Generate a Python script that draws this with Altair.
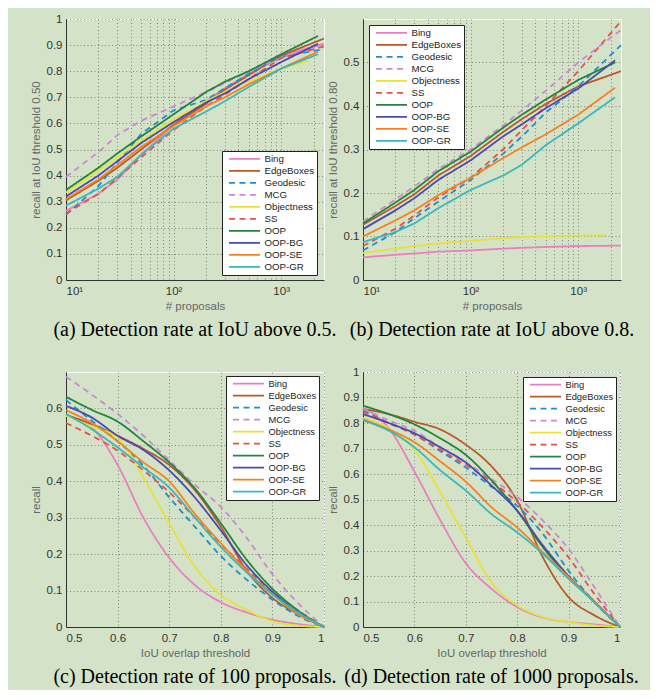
import altair as alt
import pandas as pd

METHODS = ["Bing", "EdgeBoxes", "Geodesic", "MCG", "Objectness", "SS",
           "OOP", "OOP-BG", "OOP-SE", "OOP-GR"]
COLORS = ["#e97fbd", "#b9592a", "#1f8fcf", "#c88ad6", "#e6e23a", "#e8504a",
          "#22853c", "#4a4ab0", "#f58220", "#3ab8b8"]
DASHED = ["Geodesic", "MCG", "SS"]

# number of proposals (x of panels a, b); last point differs per method
PROPOSALS = [10, 20, 30, 50, 100, 200, 300, 500, 1000]
END_PROPOSALS = {"Bing": 2500, "EdgeBoxes": 2500, "Geodesic": 2500, "MCG": 2500,
                 "Objectness": 1800, "SS": 2500, "OOP": 2200, "OOP-BG": 2200,
                 "OOP-SE": 2200, "OOP-GR": 2200}

# (a) recall at IoU 0.5
RECALL_050 = {
    "Bing":       [0.265, 0.33, 0.385, 0.48, 0.595, 0.685, 0.735, 0.79, 0.86, 0.905],
    "EdgeBoxes":  [0.305, 0.38, 0.43, 0.50, 0.595, 0.675, 0.73, 0.785, 0.86, 0.925],
    "Geodesic":   [0.25, 0.36, 0.45, 0.56, 0.65, 0.69, 0.735, 0.79, 0.855, 0.885],
    "MCG":        [0.395, 0.49, 0.555, 0.61, 0.665, 0.72, 0.755, 0.80, 0.85, 0.905],
    "Objectness": [0.335, 0.42, 0.47, 0.535, 0.615, 0.685, 0.72, 0.76, 0.81, 0.84],
    "SS":         [0.255, 0.33, 0.39, 0.47, 0.575, 0.665, 0.71, 0.77, 0.85, 0.895],
    "OOP":        [0.345, 0.43, 0.485, 0.55, 0.635, 0.72, 0.76, 0.80, 0.865, 0.935],
    "OOP-BG":     [0.32, 0.40, 0.455, 0.525, 0.605, 0.68, 0.715, 0.77, 0.835, 0.905],
    "OOP-SE":     [0.31, 0.385, 0.44, 0.51, 0.59, 0.665, 0.70, 0.75, 0.81, 0.875],
    "OOP-GR":     [0.285, 0.35, 0.395, 0.48, 0.58, 0.645, 0.685, 0.74, 0.81, 0.865],
}

# (b) recall at IoU 0.8
RECALL_080 = {
    "Bing":       [0.052, 0.058, 0.061, 0.065, 0.068, 0.072, 0.074, 0.076, 0.078, 0.079],
    "EdgeBoxes":  [0.127, 0.17, 0.197, 0.24, 0.285, 0.34, 0.37, 0.405, 0.445, 0.48],
    "Geodesic":   [0.068, 0.11, 0.142, 0.18, 0.23, 0.29, 0.33, 0.385, 0.445, 0.54],
    "MCG":        [0.135, 0.185, 0.215, 0.255, 0.30, 0.355, 0.39, 0.435, 0.50, 0.575],
    "Objectness": [0.062, 0.072, 0.078, 0.084, 0.09, 0.096, 0.099, 0.101, 0.102, 0.103],
    "SS":         [0.078, 0.118, 0.148, 0.19, 0.235, 0.30, 0.345, 0.40, 0.48, 0.595],
    "OOP":        [0.13, 0.178, 0.207, 0.25, 0.295, 0.35, 0.38, 0.415, 0.46, 0.50],
    "OOP-BG":     [0.117, 0.16, 0.188, 0.23, 0.275, 0.33, 0.358, 0.395, 0.44, 0.505],
    "OOP-SE":     [0.10, 0.137, 0.16, 0.195, 0.235, 0.28, 0.305, 0.335, 0.38, 0.442],
    "OOP-GR":     [0.087, 0.11, 0.13, 0.165, 0.207, 0.24, 0.265, 0.31, 0.36, 0.42],
}

# IoU overlap thresholds (x of panels c, d)
IOU = [0.5, 0.55, 0.6, 0.65, 0.7, 0.75, 0.8, 0.85, 0.9, 0.95, 1.0]

# (c) 100 proposals
RECALL_100 = {
    "Bing":       [0.58, 0.548, 0.445, 0.30, 0.19, 0.115, 0.068, 0.04, 0.02, 0.008, 0.0],
    "EdgeBoxes":  [0.582, 0.557, 0.525, 0.489, 0.445, 0.375, 0.275, 0.155, 0.08, 0.035, 0.0],
    "Geodesic":   [0.623, 0.566, 0.51, 0.443, 0.356, 0.275, 0.195, 0.13, 0.075, 0.03, 0.0],
    "MCG":        [0.687, 0.638, 0.585, 0.525, 0.458, 0.39, 0.33, 0.245, 0.145, 0.065, 0.0],
    "Objectness": [0.58, 0.55, 0.52, 0.41, 0.285, 0.165, 0.088, 0.047, 0.016, 0.004, 0.0],
    "SS":         [0.56, 0.525, 0.484, 0.43, 0.37, 0.30, 0.228, 0.16, 0.095, 0.045, 0.0],
    "OOP":        [0.632, 0.596, 0.564, 0.51, 0.452, 0.38, 0.285, 0.185, 0.105, 0.045, 0.0],
    "OOP-BG":     [0.607, 0.575, 0.525, 0.486, 0.43, 0.355, 0.265, 0.17, 0.097, 0.04, 0.0],
    "OOP-SE":     [0.595, 0.56, 0.51, 0.452, 0.40, 0.31, 0.23, 0.155, 0.09, 0.035, 0.0],
    "OOP-GR":     [0.585, 0.543, 0.493, 0.438, 0.383, 0.30, 0.22, 0.15, 0.09, 0.04, 0.0],
}

# (d) 1000 proposals
RECALL_1000 = {
    "Bing":       [0.86, 0.78, 0.61, 0.42, 0.25, 0.15, 0.078, 0.037, 0.02, 0.01, 0.0],
    "EdgeBoxes":  [0.855, 0.835, 0.805, 0.775, 0.715, 0.63, 0.495, 0.273, 0.117, 0.046, 0.0],
    "Geodesic":   [0.85, 0.80, 0.755, 0.69, 0.625, 0.55, 0.475, 0.365, 0.22, 0.098, 0.0],
    "MCG":        [0.857, 0.81, 0.77, 0.705, 0.645, 0.58, 0.51, 0.417, 0.306, 0.157, 0.0],
    "Objectness": [0.82, 0.78, 0.695, 0.53, 0.35, 0.175, 0.085, 0.039, 0.02, 0.006, 0.0],
    "SS":         [0.845, 0.80, 0.755, 0.695, 0.635, 0.57, 0.49, 0.39, 0.273, 0.13, 0.0],
    "OOP":        [0.868, 0.835, 0.795, 0.74, 0.675, 0.575, 0.456, 0.313, 0.196, 0.098, 0.0],
    "OOP-BG":     [0.835, 0.80, 0.76, 0.705, 0.645, 0.555, 0.456, 0.32, 0.20, 0.10, 0.0],
    "OOP-SE":     [0.815, 0.775, 0.725, 0.65, 0.57, 0.47, 0.39, 0.293, 0.196, 0.10, 0.0],
    "OOP-GR":     [0.81, 0.77, 0.705, 0.615, 0.535, 0.443, 0.371, 0.287, 0.189, 0.098, 0.0],
}

LOG_TICKS = [10, 20, 30, 40, 50, 60, 70, 80, 90, 100, 200, 300, 400, 500, 600,
             700, 800, 900, 1000, 2000]

BG = "#d4e3c8"
SANS = "Liberation Sans"


def proposals_frame(table):
    rows = []
    for m in METHODS:
        xs = PROPOSALS + [END_PROPOSALS[m]]
        for i, (x, y) in enumerate(zip(xs, table[m])):
            rows.append({"method": m, "x": x, "y": y, "o": i})
    return pd.DataFrame(rows)


def iou_frame(table):
    rows = []
    for m in METHODS:
        for i, (x, y) in enumerate(zip(IOU, table[m])):
            rows.append({"method": m, "x": x, "y": y, "o": i})
    return pd.DataFrame(rows)


def panel(df, x_enc_kwargs, y_domain, y_ticks, y_title, x_title, caption,
          lx, ly, w, h, interp, lab_size, row_h):
    legend = alt.Legend(
        title=None, orient="none", legendX=lx, legendY=ly,
        symbolType="stroke", symbolSize=31 * 31, symbolStrokeWidth=1.8,
        labelFont=SANS, labelFontSize=lab_size, labelColor="#222",
        fillColor="white", strokeColor="#222", padding=2,
        clipHeight=row_h, rowPadding=0, labelOffset=3.5, symbolOffset=4,
    )
    dash_range = [[6, 4.5] if m in DASHED else [1, 0] for m in METHODS]
    chart = alt.Chart(df).mark_line(strokeWidth=1.8, interpolate=interp).encode(
        x=alt.X("x:Q", title=x_title, **x_enc_kwargs),
        y=alt.Y("y:Q", title=y_title,
                scale=alt.Scale(domain=y_domain, nice=False, zero=True),
                axis=alt.Axis(values=y_ticks, format=".1~f", grid=True)),
        color=alt.Color("method:N", sort=METHODS,
                        scale=alt.Scale(domain=METHODS, range=COLORS), legend=legend),
        strokeDash=alt.StrokeDash("method:N", sort=METHODS,
                                  scale=alt.Scale(domain=METHODS, range=dash_range),
                                  legend=legend),
        order=alt.Order("o:Q"),
    ).properties(
        width=w, height=h,
        title=alt.TitleParams(caption, orient="bottom", anchor="middle",
                              font="Liberation Serif", fontSize=20,
                              fontWeight="normal", color="black", offset=8),
    )
    return chart


log_x = dict(
    scale=alt.Scale(type="log", domain=[10, 2500], nice=False),
    axis=alt.Axis(values=LOG_TICKS, grid=True,
                  labelExpr="datum.value == 10 ? '10¹' : datum.value == 100 ? '10²' : datum.value == 1000 ? '10³' : ''"),
)
iou_x = dict(
    scale=alt.Scale(domain=[0.5, 1.0], nice=False, zero=False),
    axis=alt.Axis(values=[0.5, 0.6, 0.7, 0.8, 0.9, 1.0], format=".1~f", grid=True),
)

ya = [round(0.1 * i, 1) for i in range(11)]
yb = [round(0.1 * i, 1) for i in range(6)]
yc = [round(0.1 * i, 1) for i in range(7)]

pa = panel(proposals_frame(RECALL_050), log_x, [0, 1], ya,
           "recall at IoU threshold 0.50", "# proposals",
           "(a) Detection rate at IoU above 0.5.", 156, 132, 258, 261,
           "linear", 9.7, 11.6)
pb = panel(proposals_frame(RECALL_080), log_x, [0, 0.6], yb,
           "recall at IoU threshold 0.80", "# proposals",
           "(b) Detection rate at IoU above 0.8.", 6, 6, 258, 261,
           "linear", 9.7, 11.8)
pc = panel(iou_frame(RECALL_100), iou_x, [0, 0.7], yc,
           "recall", "IoU overlap threshold",
           "(c) Detection rate of 100 proposals.", 160, 4, 258, 255,
           "monotone", 9.3, 11.4)
pd_ = panel(iou_frame(RECALL_1000), iou_x, [0, 1], ya,
            "recall", "IoU overlap threshold",
            "(d) Detection rate of 1000 proposals.", 160, 5, 257, 255,
            "monotone", 9.3, 11.4)

chart = alt.concat(
    pa, pb, pc, pd_, columns=2, spacing={"row": 92, "column": 39}, bounds="flush"
).resolve_scale(
    color="independent", strokeDash="independent", x="independent", y="independent"
).resolve_legend(
    color="independent", strokeDash="independent"
).properties(
    padding={"left": 21, "top": 4, "right": 10, "bottom": 2},
    background=BG,
).configure_view(
    stroke="#ffffff", strokeWidth=1, fill=None,
).configure_axis(
    labelFont=SANS, labelFontSize=11.5, labelColor="#333",
    titleFont=SANS, titleFontSize=11.5, titleColor="#666", titleFontWeight="normal",
    domainColor="#333", domainWidth=1, ticks=False,
    gridColor="#6f6f6f", gridDash=[1, 2.5], gridOpacity=0.8, gridWidth=1,
    labelPadding=4, titlePadding=5,
).configure_axisX(
    labelPadding=5, titlePadding=4,
)

chart.save("out.html", embed_options={"renderer": "svg", "actions": False})
